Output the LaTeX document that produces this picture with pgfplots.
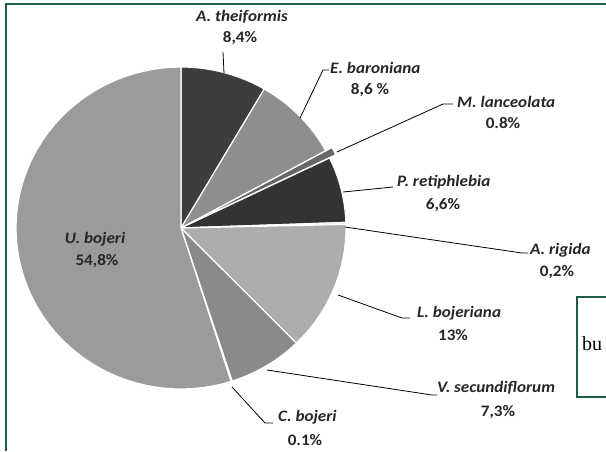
\documentclass[border=0pt]{standalone}
\usepackage{fontspec}
\setmainfont{Carlito}
\newfontfamily\labfont[FakeStretch=1.07]{Carlito}
\newfontfamily\seriffont{Liberation Serif}
\usepackage{pgfplots}
\pgfplotsset{compat=1.18}
\usepackage{pgfplotstable}
\definecolor{frame}{HTML}{1B5E42}
\definecolor{sA}{HTML}{3D3D3D}
\definecolor{sB}{HTML}{8E8E8E}
\definecolor{sC}{HTML}{666666}
\definecolor{sD}{HTML}{333333}
\definecolor{sE}{HTML}{E6E6E6}
\definecolor{sF}{HTML}{ADADAD}
\definecolor{sG}{HTML}{8A8A8A}
\definecolor{sH}{HTML}{FFFFFF}
\definecolor{sI}{HTML}{9B9B9B}

% share in %, fill colour, outward offset (px); clockwise from 12 o'clock
\pgfplotstableread{
share col explode
8.4  sA 0
8.6  sB 0
0.8  sC 7
6.6  sD 0
0.2  sE 0
13   sF 0
7.3  sG 0
0.1  sH 0
54.8 sI 0
}\slices

\begin{document}
\begin{tikzpicture}
\begin{axis}[x=1pt,y=1pt,xmin=0,xmax=606,ymin=0,ymax=451,y dir=reverse,
  hide axis,scale only axis,clip=false]
\pgfplotstablegetrowsof{\slices}
\pgfmathtruncatemacro\nrows{\pgfplotsretval-1}
\gdef\acc{0}
\pgfplotsforeachungrouped \i in {0,...,\nrows}{%
  \pgfplotstablegetelem{\i}{share}\of\slices \let\sv\pgfplotsretval
  \pgfplotstablegetelem{\i}{col}\of\slices \let\sc\pgfplotsretval
  \pgfplotstablegetelem{\i}{explode}\of\slices \let\se\pgfplotsretval
  \pgfmathsetmacro\aS{\acc/99.8*360}%
  \pgfmathsetmacro\aE{(\acc+\sv)/99.8*360}%
  \pgfmathsetmacro\aM{(\aS+\aE)/2}%
  \pgfmathsetmacro\ox{181+\se*sin(\aM)}%
  \pgfmathsetmacro\oy{228-\se*cos(\aM)}%
  \edef\cmd{\noexpand\addplot[fill=\sc,draw=white,line width=1.2pt,line join=round,
    domain=\aS:\aE,samples=60,variable=\noexpand\t]
    ({\ox+165*sin(\noexpand\t)},{\oy-161*cos(\noexpand\t)}) -- (axis cs:\ox,\oy) -- cycle;}%
  \cmd
  \pgfmathsetmacro\acc{\acc+\sv}\global\let\acc\acc
}

% frame
\draw[frame,line width=2pt] (axis cs:6,451) -- (axis cs:6,4) -- (axis cs:606,4);
\draw[frame,line width=2pt] (axis cs:606,297) -- (axis cs:577,297) -- (axis cs:577,397) -- (axis cs:606,397);
\node[font=\seriffont\fontsize{20}{22}\selectfont,anchor=base west,inner sep=0pt] at (axis cs:582,350) {bu};

% leader lines
\begin{scope}[black,line width=0.8pt]
\draw (axis cs:224,73) -- (axis cs:223,52);
\draw (axis cs:300,118) -- (axis cs:323,70) -- (axis cs:329,70);
\draw (axis cs:337,152) -- (axis cs:443,104) -- (axis cs:453,104);
\draw (axis cs:343,192) -- (axis cs:393,187);
\draw (axis cs:345,227) -- (axis cs:522,253) -- (axis cs:528,253);
\draw (axis cs:338,295) -- (axis cs:402,318) -- (axis cs:410,318);
\draw (axis cs:267,370) -- (axis cs:432,395) -- (axis cs:437,395);
\draw (axis cs:232,387) -- (axis cs:265,423) -- (axis cs:273,423);
\end{scope}

% labels
\tikzset{lab/.style={font=\labfont\fontsize{16}{18}\selectfont\bfseries\itshape,inner sep=0pt,text=black!85},
  pct/.style={font=\labfont\fontsize{16}{18}\selectfont\bfseries,inner sep=0pt,text=black!85}}
\node[lab] at (axis cs:242,17) {A. theiformis};
\node[pct] at (axis cs:240,38) {8,4\%};
\node[lab,anchor=west] at (axis cs:330,68) {E. baroniana};
\node[pct] at (axis cs:370,90) {8,6 \%};
\node[lab,anchor=west] at (axis cs:457,102) {M. lanceolata};
\node[pct] at (axis cs:503,123) {0.8\%};
\node[lab,anchor=west] at (axis cs:397,182) {P. retiphlebia};
\node[pct] at (axis cs:443,205) {6,6\%};
\node[lab,anchor=west] at (axis cs:530,250) {A. rigida};
\node[pct] at (axis cs:557,272) {0,2\%};
\node[lab,anchor=west] at (axis cs:417,313) {L. bojeriana};
\node[pct] at (axis cs:453,335) {13\%};
\node[lab,anchor=west] at (axis cs:437,388) {V. secundiflorum};
\node[pct] at (axis cs:498,412) {7,3\%};
\node[lab,anchor=west] at (axis cs:278,417) {C. bojeri};
\node[pct] at (axis cs:305,440) {0.1\%};
\node[lab] at (axis cs:95,239) {U. bojeri};
\node[pct] at (axis cs:97,261) {54,8\%};
\end{axis}
\pgfresetboundingbox
\path[use as bounding box] (current axis.south west) rectangle (current axis.north east);
\end{tikzpicture}
\end{document}
